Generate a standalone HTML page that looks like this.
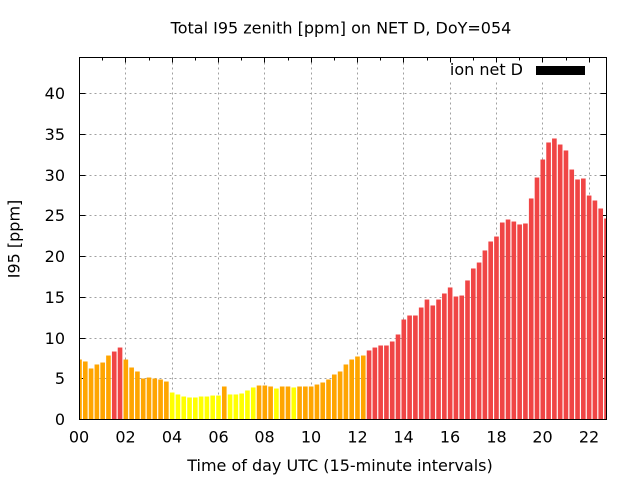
<!DOCTYPE html>
<html>
<head>
<meta charset="utf-8">
<style>
  html,body{margin:0;padding:0;background:#fff;}
  svg{display:block;}
  text{font-family:"DejaVu Sans","Liberation Sans",sans-serif;font-size:16px;fill:#000;}
</style>
</head>
<body>
<svg width="640" height="480" viewBox="0 0 640 480" xmlns="http://www.w3.org/2000/svg">
  <defs>
    <clipPath id="plot"><rect x="79.5" y="57.5" width="527" height="362"/></clipPath>
  </defs>
  <rect x="0" y="0" width="640" height="480" fill="#fff"/>

  <g stroke="#a0a0a0" stroke-width="1" stroke-dasharray="2,3" fill="none">
    <line x1="125.5" y1="57.5" x2="125.5" y2="419.5"/>
    <line x1="172.5" y1="57.5" x2="172.5" y2="419.5"/>
    <line x1="218.5" y1="57.5" x2="218.5" y2="419.5"/>
    <line x1="264.5" y1="57.5" x2="264.5" y2="419.5"/>
    <line x1="311.5" y1="57.5" x2="311.5" y2="419.5"/>
    <line x1="357.5" y1="57.5" x2="357.5" y2="419.5"/>
    <line x1="403.5" y1="57.5" x2="403.5" y2="419.5"/>
    <line x1="450.5" y1="57.5" x2="450.5" y2="419.5"/>
    <line x1="496.5" y1="57.5" x2="496.5" y2="419.5"/>
    <line x1="542.5" y1="57.5" x2="542.5" y2="419.5"/>
    <line x1="589.5" y1="57.5" x2="589.5" y2="419.5"/>
    <line x1="79.5" y1="378.5" x2="606.5" y2="378.5"/>
    <line x1="79.5" y1="338.5" x2="606.5" y2="338.5"/>
    <line x1="79.5" y1="297.5" x2="606.5" y2="297.5"/>
    <line x1="79.5" y1="256.5" x2="606.5" y2="256.5"/>
    <line x1="79.5" y1="215.5" x2="606.5" y2="215.5"/>
    <line x1="79.5" y1="175.5" x2="606.5" y2="175.5"/>
    <line x1="79.5" y1="134.5" x2="606.5" y2="134.5"/>
    <line x1="79.5" y1="93.5" x2="606.5" y2="93.5"/>
  </g>
  <rect x="446" y="58" width="158" height="22" fill="#fff"/>

  <g stroke="#000" stroke-width="1">
    <line x1="79.5" y1="378.5" x2="85.5" y2="378.5"/>
    <line x1="79.5" y1="338.5" x2="85.5" y2="338.5"/>
    <line x1="79.5" y1="297.5" x2="85.5" y2="297.5"/>
    <line x1="79.5" y1="256.5" x2="85.5" y2="256.5"/>
    <line x1="79.5" y1="215.5" x2="85.5" y2="215.5"/>
    <line x1="79.5" y1="175.5" x2="85.5" y2="175.5"/>
    <line x1="79.5" y1="134.5" x2="85.5" y2="134.5"/>
    <line x1="79.5" y1="93.5" x2="85.5" y2="93.5"/>
    <line x1="600.5" y1="378.5" x2="606.5" y2="378.5"/>
    <line x1="600.5" y1="338.5" x2="606.5" y2="338.5"/>
    <line x1="600.5" y1="297.5" x2="606.5" y2="297.5"/>
    <line x1="600.5" y1="256.5" x2="606.5" y2="256.5"/>
    <line x1="600.5" y1="215.5" x2="606.5" y2="215.5"/>
    <line x1="600.5" y1="175.5" x2="606.5" y2="175.5"/>
    <line x1="600.5" y1="134.5" x2="606.5" y2="134.5"/>
    <line x1="600.5" y1="93.5" x2="606.5" y2="93.5"/>
    <line x1="125.5" y1="57.5" x2="125.5" y2="62.5"/>
    <line x1="172.5" y1="57.5" x2="172.5" y2="62.5"/>
    <line x1="218.5" y1="57.5" x2="218.5" y2="62.5"/>
    <line x1="264.5" y1="57.5" x2="264.5" y2="62.5"/>
    <line x1="311.5" y1="57.5" x2="311.5" y2="62.5"/>
    <line x1="357.5" y1="57.5" x2="357.5" y2="62.5"/>
    <line x1="403.5" y1="57.5" x2="403.5" y2="62.5"/>
    <line x1="450.5" y1="57.5" x2="450.5" y2="62.5"/>
    <line x1="496.5" y1="57.5" x2="496.5" y2="62.5"/>
    <line x1="542.5" y1="57.5" x2="542.5" y2="62.5"/>
    <line x1="589.5" y1="57.5" x2="589.5" y2="62.5"/>
    <line x1="102.5" y1="57.5" x2="102.5" y2="60.5"/>
    <line x1="149.5" y1="57.5" x2="149.5" y2="60.5"/>
    <line x1="195.5" y1="57.5" x2="195.5" y2="60.5"/>
    <line x1="241.5" y1="57.5" x2="241.5" y2="60.5"/>
    <line x1="288.5" y1="57.5" x2="288.5" y2="60.5"/>
    <line x1="334.5" y1="57.5" x2="334.5" y2="60.5"/>
    <line x1="380.5" y1="57.5" x2="380.5" y2="60.5"/>
    <line x1="427.5" y1="57.5" x2="427.5" y2="60.5"/>
    <line x1="473.5" y1="57.5" x2="473.5" y2="60.5"/>
    <line x1="519.5" y1="57.5" x2="519.5" y2="60.5"/>
    <line x1="566.5" y1="57.5" x2="566.5" y2="60.5"/>
  </g>

  <g clip-path="url(#plot)">
    <g transform="translate(79.5,419.5) scale(5.7912,-8.15)">
      <g fill="#ffa500">
        <rect x="-0.4" y="0" width="0.8" height="7.36"/>
        <rect x="0.6" y="0" width="0.8" height="7.12"/>
        <rect x="1.6" y="0" width="0.8" height="6.26"/>
        <rect x="2.6" y="0" width="0.8" height="6.75"/>
        <rect x="3.6" y="0" width="0.8" height="6.99"/>
        <rect x="4.6" y="0" width="0.8" height="7.85"/>
        <rect x="7.6" y="0" width="0.8" height="7.36"/>
        <rect x="8.6" y="0" width="0.8" height="6.38"/>
        <rect x="9.6" y="0" width="0.8" height="5.89"/>
        <rect x="10.6" y="0" width="0.8" height="5.03"/>
        <rect x="11.6" y="0" width="0.8" height="5.15"/>
        <rect x="12.6" y="0" width="0.8" height="5.03"/>
        <rect x="13.6" y="0" width="0.8" height="4.91"/>
        <rect x="14.6" y="0" width="0.8" height="4.66"/>
        <rect x="24.6" y="0" width="0.8" height="4.05"/>
        <rect x="30.6" y="0" width="0.8" height="4.17"/>
        <rect x="31.6" y="0" width="0.8" height="4.17"/>
        <rect x="32.6" y="0" width="0.8" height="4.05"/>
        <rect x="34.6" y="0" width="0.8" height="4.05"/>
        <rect x="35.6" y="0" width="0.8" height="4.05"/>
        <rect x="37.6" y="0" width="0.8" height="4.05"/>
        <rect x="38.6" y="0" width="0.8" height="4.05"/>
        <rect x="39.6" y="0" width="0.8" height="4.05"/>
        <rect x="40.6" y="0" width="0.8" height="4.29"/>
        <rect x="41.6" y="0" width="0.8" height="4.54"/>
        <rect x="42.6" y="0" width="0.8" height="4.91"/>
        <rect x="43.6" y="0" width="0.8" height="5.52"/>
        <rect x="44.6" y="0" width="0.8" height="5.89"/>
        <rect x="45.6" y="0" width="0.8" height="6.75"/>
        <rect x="46.6" y="0" width="0.8" height="7.36"/>
        <rect x="47.6" y="0" width="0.8" height="7.73"/>
        <rect x="48.6" y="0" width="0.8" height="7.85"/>
      </g>
      <g fill="#ffff00">
        <rect x="15.6" y="0" width="0.8" height="3.31"/>
        <rect x="16.6" y="0" width="0.8" height="3.07"/>
        <rect x="17.6" y="0" width="0.8" height="2.82"/>
        <rect x="18.6" y="0" width="0.8" height="2.70"/>
        <rect x="19.6" y="0" width="0.8" height="2.70"/>
        <rect x="20.6" y="0" width="0.8" height="2.82"/>
        <rect x="21.6" y="0" width="0.8" height="2.82"/>
        <rect x="22.6" y="0" width="0.8" height="2.94"/>
        <rect x="23.6" y="0" width="0.8" height="2.94"/>
        <rect x="25.6" y="0" width="0.8" height="3.07"/>
        <rect x="26.6" y="0" width="0.8" height="3.07"/>
        <rect x="27.6" y="0" width="0.8" height="3.19"/>
        <rect x="28.6" y="0" width="0.8" height="3.56"/>
        <rect x="29.6" y="0" width="0.8" height="3.93"/>
        <rect x="33.6" y="0" width="0.8" height="3.80"/>
        <rect x="36.6" y="0" width="0.8" height="3.93"/>
      </g>
      <g fill="#f04545">
        <rect x="5.6" y="0" width="0.8" height="8.34"/>
        <rect x="6.6" y="0" width="0.8" height="8.83"/>
        <rect x="49.6" y="0" width="0.8" height="8.47"/>
        <rect x="50.6" y="0" width="0.8" height="8.83"/>
        <rect x="51.6" y="0" width="0.8" height="9.08"/>
        <rect x="52.6" y="0" width="0.8" height="9.08"/>
        <rect x="53.6" y="0" width="0.8" height="9.57"/>
        <rect x="54.6" y="0" width="0.8" height="10.43"/>
        <rect x="55.6" y="0" width="0.8" height="12.27"/>
        <rect x="56.6" y="0" width="0.8" height="12.76"/>
        <rect x="57.6" y="0" width="0.8" height="12.76"/>
        <rect x="58.6" y="0" width="0.8" height="13.74"/>
        <rect x="59.6" y="0" width="0.8" height="14.72"/>
        <rect x="60.6" y="0" width="0.8" height="13.99"/>
        <rect x="61.6" y="0" width="0.8" height="14.72"/>
        <rect x="62.6" y="0" width="0.8" height="15.46"/>
        <rect x="63.6" y="0" width="0.8" height="16.20"/>
        <rect x="64.6" y="0" width="0.8" height="15.09"/>
        <rect x="65.6" y="0" width="0.8" height="15.21"/>
        <rect x="66.6" y="0" width="0.8" height="17.06"/>
        <rect x="67.6" y="0" width="0.8" height="18.53"/>
        <rect x="68.6" y="0" width="0.8" height="19.26"/>
        <rect x="69.6" y="0" width="0.8" height="20.74"/>
        <rect x="70.6" y="0" width="0.8" height="21.84"/>
        <rect x="71.6" y="0" width="0.8" height="22.45"/>
        <rect x="72.6" y="0" width="0.8" height="24.17"/>
        <rect x="73.6" y="0" width="0.8" height="24.54"/>
        <rect x="74.6" y="0" width="0.8" height="24.29"/>
        <rect x="75.6" y="0" width="0.8" height="23.93"/>
        <rect x="76.6" y="0" width="0.8" height="24.05"/>
        <rect x="77.6" y="0" width="0.8" height="27.12"/>
        <rect x="78.6" y="0" width="0.8" height="29.69"/>
        <rect x="79.6" y="0" width="0.8" height="31.90"/>
        <rect x="80.6" y="0" width="0.8" height="33.99"/>
        <rect x="81.6" y="0" width="0.8" height="34.48"/>
        <rect x="82.6" y="0" width="0.8" height="33.74"/>
        <rect x="83.6" y="0" width="0.8" height="33.01"/>
        <rect x="84.6" y="0" width="0.8" height="30.67"/>
        <rect x="85.6" y="0" width="0.8" height="29.45"/>
        <rect x="86.6" y="0" width="0.8" height="29.57"/>
        <rect x="87.6" y="0" width="0.8" height="27.48"/>
        <rect x="88.6" y="0" width="0.8" height="26.87"/>
        <rect x="89.6" y="0" width="0.8" height="25.89"/>
        <rect x="90.6" y="0" width="0.8" height="24.66"/>
      </g>
    </g>
  </g>

  <rect x="79.5" y="57.5" width="527" height="362" fill="none" stroke="#000" stroke-width="1"/>

  <g text-anchor="end">
    <text x="65" y="425">0</text>
    <text x="65" y="384">5</text>
    <text x="65" y="344">10</text>
    <text x="65" y="303">15</text>
    <text x="65" y="262">20</text>
    <text x="65" y="221">25</text>
    <text x="65" y="181">30</text>
    <text x="65" y="140">35</text>
    <text x="65" y="99">40</text>
  </g>
  <g text-anchor="middle">
    <text x="79" y="442.5">00</text>
    <text x="125.5" y="442.5">02</text>
    <text x="172" y="442.5">04</text>
    <text x="218.5" y="442.5">06</text>
    <text x="264.5" y="442.5">08</text>
    <text x="311" y="442.5">10</text>
    <text x="357.5" y="442.5">12</text>
    <text x="403.5" y="442.5">14</text>
    <text x="450" y="442.5">16</text>
    <text x="496.5" y="442.5">18</text>
    <text x="542.5" y="442.5">20</text>
    <text x="589" y="442.5">22</text>
  </g>

  <text x="341" y="33.5" text-anchor="middle">Total I95 zenith [ppm] on NET D, DoY=054</text>
  <text x="340" y="471" text-anchor="middle">Time of day UTC (15-minute intervals)</text>
  <text transform="translate(19.5,239) rotate(-90)" text-anchor="middle">I95 [ppm]</text>

  <text x="523" y="75" text-anchor="end">ion net D</text>
  <rect x="536" y="66" width="49" height="9" fill="#000"/>
</svg>
</body>
</html>
